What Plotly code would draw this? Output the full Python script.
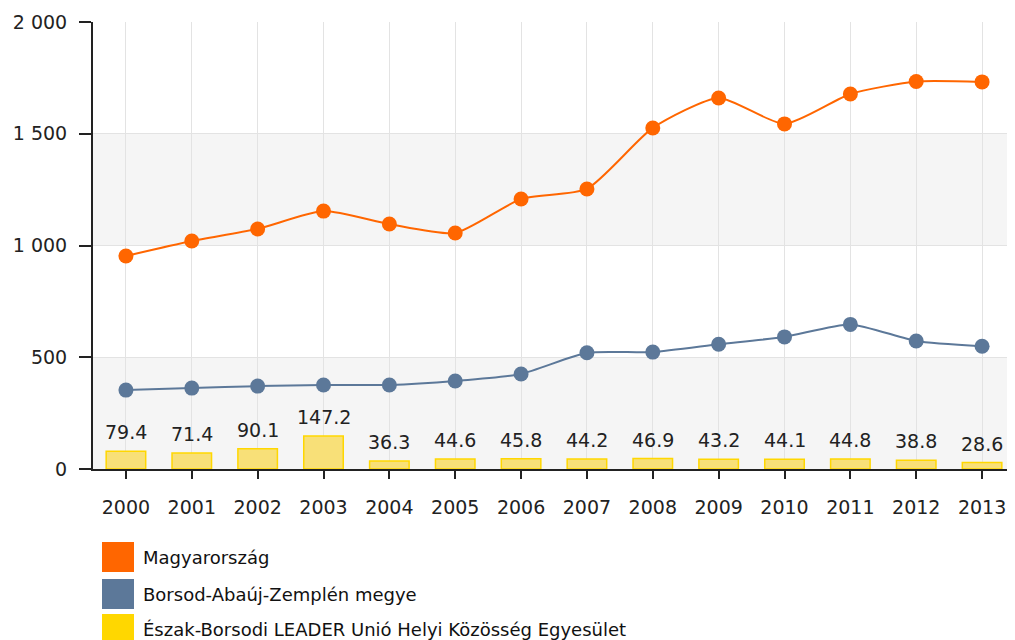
import plotly.graph_objects as go

years = ["2000", "2001", "2002", "2003", "2004", "2005", "2006",
         "2007", "2008", "2009", "2010", "2011", "2012", "2013"]
magyarorszag = [953, 1020, 1074, 1154, 1096, 1056, 1208, 1253, 1526, 1660, 1544, 1678, 1734, 1732]
baz_megye = [353, 362, 371, 376, 376, 394, 425, 520, 523, 558, 591, 647, 573, 549]
leader = [79.4, 71.4, 90.1, 147.2, 36.3, 44.6, 45.8, 44.2, 46.9, 43.2, 44.1, 44.8, 38.8, 28.6]
leader_labels = ["79.4", "71.4", "90.1", "147.2", "36.3", "44.6", "45.8",
                 "44.2", "46.9", "43.2", "44.1", "44.8", "38.8", "28.6"]
series_names = ["Magyarország", "Borsod-Abaúj-Zemplén megye",
                "Észak-Borsodi LEADER Unió Helyi Közösség Egyesület"]
series_colors = ["#ff6600", "#5c7899", "#ffd700"]
y_ticks = [0, 500, 1000, 1500, 2000]

FONT = "DejaVu Sans"
W, H = 1007, 632          # page body has an 8px margin
L, T, B = 85, 14, 171
PW, PH = W - L, H - T - B

fig = go.Figure()

fig.add_trace(go.Bar(
    x=years, y=leader, name=series_names[2],
    marker=dict(color="rgba(248,224,120,1)", line=dict(color="#ffd700", width=1.5)),
    width=0.6, showlegend=False, hoverinfo="skip",
))
fig.add_trace(go.Scatter(
    x=years, y=magyarorszag, name=series_names[0], mode="lines+markers",
    line=dict(color=series_colors[0], width=2, shape="spline", smoothing=0.6),
    marker=dict(color=series_colors[0], size=15), showlegend=False,
))
fig.add_trace(go.Scatter(
    x=years, y=baz_megye, name=series_names[1], mode="lines+markers",
    line=dict(color=series_colors[1], width=2, shape="spline", smoothing=0.6),
    marker=dict(color=series_colors[1], size=15), showlegend=False,
))

annotations = []
for i, (v, lab) in enumerate(zip(leader, leader_labels)):
    annotations.append(dict(
        x=i, y=v, xref="x", yref="y", text=lab, showarrow=False,
        yanchor="bottom", yshift=6, font=dict(family=FONT, size=19, color="#222"),
    ))

# legend drawn manually (page pixel positions minus the 8px body margin)
shapes = []
legend_y = [557 - 8, 594 - 8, 629 - 8]
sq_x0, sq_x1 = 102 - 8, 134 - 8
for name, col, yc in zip(series_names, series_colors, legend_y):
    shapes.append(dict(type="rect", xref="paper", yref="paper",
                       x0=(sq_x0 - L) / PW, x1=(sq_x1 - L) / PW,
                       y0=(T + PH - (yc + 15)) / PH, y1=(T + PH - (yc - 15)) / PH,
                       fillcolor=col, line=dict(color=col, width=0)))
    annotations.append(dict(
        xref="paper", yref="paper", x=(141 - 8 - L) / PW, y=(T + PH - yc) / PH,
        xanchor="left", yanchor="middle", text=name, showarrow=False,
        font=dict(family=FONT, size=18, color="#111"),
    ))

# alternating bands
for lo in [0, 1000]:
    shapes.append(dict(type="rect", xref="paper", yref="y", x0=0, x1=1,
                       y0=lo, y1=lo + 500, fillcolor="#f5f5f5",
                       line=dict(width=0), layer="below"))

fig.update_layout(
    width=W, height=H,
    margin=dict(l=L, r=0, t=T, b=B, autoexpand=False),
    paper_bgcolor="white", plot_bgcolor="white",
    separators=". ",
    shapes=shapes, annotations=annotations,
    font=dict(family=FONT, size=19, color="#222"),
    xaxis=dict(
        type="category", range=[-0.5, 13.5], showgrid=True, gridcolor="#e3e3e3", gridwidth=1,
        showline=True, linecolor="#222", linewidth=2,
        ticks="outside", ticklen=8, tickwidth=2, tickcolor="#222",
        ticklabelstandoff=12, tickfont=dict(family=FONT, size=19, color="#222"),
        fixedrange=True,
    ),
    yaxis=dict(
        range=[0, 2000], tickvals=y_ticks, tickformat=",d",
        showgrid=True, gridcolor="#e3e3e3", gridwidth=1, zeroline=False,
        showline=True, linecolor="#222", linewidth=2,
        ticks="outside", ticklen=12, tickwidth=2, tickcolor="#222",
        ticklabelstandoff=8, tickfont=dict(family=FONT, size=19, color="#222"),
        fixedrange=True,
    ),
)

fig.write_html("out.html")
